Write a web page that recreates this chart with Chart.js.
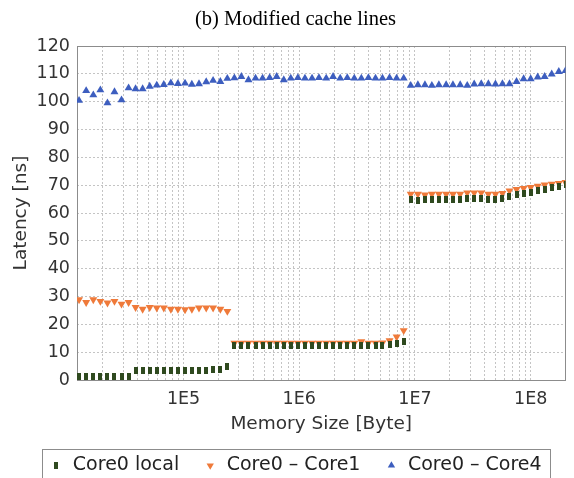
<!DOCTYPE html>
<html>
<head>
<meta charset="utf-8">
<script src="https://cdn.jsdelivr.net/npm/chart.js@4/dist/chart.umd.min.js"></script>
<style>
  html, body { margin: 0; padding: 0; background: #ffffff; }
  #wrap { width: 574px; height: 478px; }
</style>
</head>
<body>
<div id="wrap"><canvas id="c" width="574" height="478"></canvas></div>
<script>
// Memory size of each measurement, in bytes
const sizes = [
  12500, 14400, 16600, 19100, 22000, 25300, 29100, 33500, 38500, 44300,
  51000, 58700, 67500, 77700, 89400, 103000, 118000, 136000, 157000, 180000,
  208000, 239000, 275000, 316000, 364000, 419000, 482000, 555000, 638000, 735000,
  845000, 973000, 1120000, 1290000, 1480000, 1710000, 1960000, 2260000, 2600000, 2990000,
  3440000, 3960000, 4560000, 5240000, 6030000, 6940000, 7990000, 9190000, 10600000, 12200000,
  14000000, 16100000, 18600000, 21300000, 24600000, 28300000, 32500000, 37400000, 43100000, 49600000,
  57000000, 65600000, 75500000, 86900000, 100000000, 115000000, 132000000, 152000000, 175000000, 200000000
];

// Latency in ns
const localLatency = [
  1.3, 1.3, 1.3, 1.3, 1.3, 1.3, 1.3, 1.3, 3.3, 3.3,
  3.3, 3.3, 3.3, 3.3, 3.3, 3.3, 3.3, 3.3, 3.3, 3.7,
  3.9, 4.7, 12.3, 12.3, 12.3, 12.3, 12.3, 12.3, 12.3, 12.3,
  12.3, 12.3, 12.3, 12.3, 12.3, 12.3, 12.3, 12.3, 12.3, 12.3,
  12.3, 12.3, 12.3, 12.3, 12.7, 13.0, 13.8, 64.8, 64.6, 64.9,
  64.9, 64.9, 64.9, 64.9, 64.9, 65.2, 65.2, 65.2, 64.9, 64.9,
  65.1, 65.9, 66.5, 67.1, 67.5, 68.0, 68.5, 69.0, 69.7, 70.2
];

const core1Latency = [
  28.9, 27.9, 28.9, 28.3, 27.7, 28.3, 27.3, 27.9, 26.1, 25.5,
  26.1, 25.9, 25.9, 25.5, 25.5, 25.3, 25.5, 25.9, 25.9, 25.9,
  25.5, 24.7, 13.3, 13.3, 13.3, 13.3, 13.3, 13.3, 13.3, 13.3,
  13.3, 13.3, 13.3, 13.3, 13.3, 13.3, 13.3, 13.3, 13.3, 13.3,
  13.8, 13.3, 13.3, 13.4, 14.2, 15.5, 17.8, 66.8, 66.8, 66.5,
  66.8, 66.8, 66.8, 66.8, 66.8, 67.3, 67.3, 67.3, 66.8, 66.8,
  67.1, 68.0, 68.5, 68.9, 69.2, 69.7, 70.1, 70.4, 70.7, 71.0
];

const core4Latency = [
  100.4, 103.9, 102.4, 104.2, 99.5, 103.5, 100.6, 104.9, 104.6, 104.6,
  105.5, 105.9, 106.1, 106.7, 106.5, 106.6, 106.2, 106.4, 107.1, 107.6,
  107.2, 108.3, 108.5, 109.0, 107.8, 108.4, 108.4, 108.6, 109.0, 107.8,
  108.4, 108.6, 108.4, 108.4, 108.6, 108.4, 109.0, 108.4, 108.6, 108.4,
  108.4, 108.6, 108.4, 108.4, 108.6, 108.4, 108.4, 105.8, 106.0, 106.0,
  105.8, 106.0, 106.0, 106.0, 106.0, 105.8, 106.3, 106.4, 106.4, 106.3,
  106.4, 106.4, 107.2, 108.2, 108.2, 108.8, 109.0, 109.9, 110.8, 111.1
];

const seriesNames = ['Core0 local', 'Core0 \u2013 Core1', 'Core0 \u2013 Core4'];
const seriesColors = ['#2f4a1f', '#ef7a3a', '#3d5ebf'];

// Axis ranges and labels
const xMin = 12000;
const xMax = 200000000;
const decadeValues = [1e5, 1e6, 1e7, 1e8];
const decadeLabels = ['1E5', '1E6', '1E7', '1E8'];
const yMin = 0;
const yMax = 120;
const yStep = 10;

// Grid positions on the log axis: 1..9 times each power of ten
const gridMultipliers = [1, 2, 3, 4, 5, 6, 7, 8, 9];
const gridExponents = [4, 5, 6, 7, 8];
const xGridValues = [];
gridExponents.forEach(e => gridMultipliers.forEach(m => {
  const v = m * Math.pow(10, e);
  if (v >= xMin && v <= xMax) xGridValues.push(v);
}));

// Small upright bar used as the marker for the local series
const barMarker = document.createElement('canvas');
barMarker.width = 4;
barMarker.height = 7;
(function () {
  const g = barMarker.getContext('2d');
  g.fillStyle = seriesColors[0];
  g.fillRect(0, 0, 4, 7);
})();

const toPoints = vals => sizes.map((s, i) => ({ x: s, y: vals[i] }));

const sansFont = '"DejaVu Sans", "Liberation Sans", sans-serif';
const textColor = '#333333';

// Frame around the plotting area
const plotFrame = {
  id: 'plotFrame',
  beforeDatasetsDraw(chart) {
    const { ctx, chartArea: a } = chart;
    ctx.save();
    ctx.strokeStyle = '#8c8c8c';
    ctx.lineWidth = 1;
    ctx.strokeRect(Math.round(a.left) + 0.5, Math.round(a.top) + 0.5,
      Math.round(a.right - a.left) - 1, Math.round(a.bottom - a.top));
    ctx.restore();
  }
};

// Box drawn around the legend entries
const legendFrame = {
  id: 'legendFrame',
  afterDraw(chart) {
    const boxes = chart.legend && chart.legend.legendHitBoxes;
    if (!boxes || !boxes.length) return;
    const first = boxes[0];
    const last = boxes[boxes.length - 1];
    const x0 = Math.round(first.left - 7);
    const x1 = Math.round(last.left + last.width + 8);
    const y0 = Math.round(first.top + first.height / 2 - 17);
    const ctx = chart.ctx;
    ctx.save();
    ctx.strokeStyle = '#8c8c8c';
    ctx.lineWidth = 1;
    ctx.strokeRect(x0 + 0.5, y0 + 0.5, x1 - x0, 60);
    ctx.restore();
  }
};

new Chart(document.getElementById('c'), {
  type: 'scatter',
  data: {
    datasets: [
      {
        label: seriesNames[0],
        data: toPoints(localLatency),
        pointStyle: barMarker,
        pointRadius: 4,
        backgroundColor: seriesColors[0],
        borderColor: seriesColors[0],
        pointBorderWidth: 0
      },
      {
        label: seriesNames[1],
        data: toPoints(core1Latency),
        pointStyle: 'triangle',
        pointRotation: 180,
        pointRadius: 4.6,
        backgroundColor: seriesColors[1],
        borderColor: seriesColors[1],
        pointBorderWidth: 0
      },
      {
        label: seriesNames[2],
        data: toPoints(core4Latency),
        pointStyle: 'triangle',
        pointRadius: 4.6,
        backgroundColor: seriesColors[2],
        borderColor: seriesColors[2],
        pointBorderWidth: 0
      }
    ]
  },
  options: {
    responsive: false,
    animation: false,
    events: [],
    devicePixelRatio: 1,
    layout: { padding: { top: 0, left: 18, right: 1, bottom: -7 } },
    plugins: {
      tooltip: { enabled: false },
      title: {
        display: true,
        text: '(b) Modified cache lines',
        color: '#000000',
        font: { family: '"Liberation Serif", "Times New Roman", serif', size: 20.5, weight: 'normal', lineHeight: 1.2 },
        padding: { top: 7.7, bottom: 13.7 }
      },
      legend: {
        display: true,
        position: 'bottom',
        labels: {
          usePointStyle: true,
          boxWidth: 14,
          boxHeight: 6,
          padding: 24,
          color: '#222222',
          font: { family: sansFont, size: 19 }
        }
      }
    },
    scales: {
      x: {
        type: 'logarithmic',
        min: xMin,
        max: xMax,
        afterBuildTicks(scale) {
          scale.ticks = xGridValues.map(v => ({ value: v, major: false }));
        },
        afterFit(scale) { scale.height = 52; },
        ticks: {
          autoSkip: false,
          maxRotation: 0,
          minRotation: 0,
          padding: 8.5,
          color: textColor,
          font: { family: sansFont, size: 17.5, lineHeight: 1.2 },
          callback(value) {
            const i = decadeValues.indexOf(value);
            return i >= 0 ? decadeLabels[i] : '';
          }
        },
        grid: { color: '#c4c4c4', lineWidth: 1, drawTicks: false },
        border: { display: false, dash: [2, 2] },
        title: {
          display: true,
          text: 'Memory Size [Byte]',
          color: textColor,
          font: { family: sansFont, size: 18.5, lineHeight: 1 },
          padding: { top: 0, bottom: -1.25 }
        }
      },
      y: {
        type: 'linear',
        min: yMin,
        max: yMax,
        afterFit(scale) { scale.width = 59; },
        ticks: {
          stepSize: yStep,
          padding: 7,
          color: textColor,
          font: { family: sansFont, size: 17.5, lineHeight: 1.2 }
        },
        grid: { color: '#c4c4c4', lineWidth: 1, drawTicks: false },
        border: { display: false, dash: [2, 2] },
        title: {
          display: true,
          text: 'Latency [ns]',
          color: textColor,
          font: { family: sansFont, size: 18.5, lineHeight: 1 },
          padding: { top: -6.25, bottom: 0 }
        }
      }
    }
  },
  plugins: [plotFrame, legendFrame]
});
</script>
</body>
</html>
